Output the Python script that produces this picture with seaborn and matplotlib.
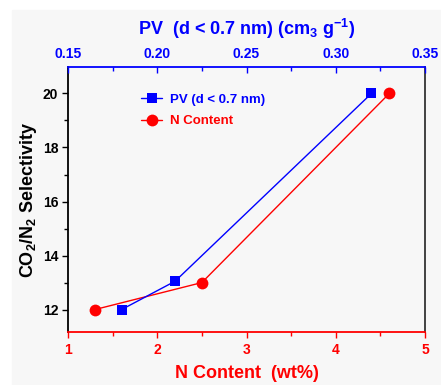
import numpy as np
import pandas as pd
import seaborn as sns
import matplotlib.pyplot as plt
from matplotlib.patches import Rectangle
from matplotlib.ticker import MultipleLocator

# data
n_content = [1.3, 2.5, 4.6]
n_selectivity = [12.0, 13.0, 20.0]
pv_values = [0.18, 0.21, 0.32]
pv_selectivity = [12.0, 13.05, 20.0]

df_n = pd.DataFrame({"N": n_content, "sel": n_selectivity})
df_pv = pd.DataFrame({"PV": pv_values, "sel": pv_selectivity})

sns.set_style("ticks")
plt.rcParams['font.family'] = ['Liberation Sans', 'DejaVu Sans']
plt.rcParams['font.weight'] = 'bold'
plt.rcParams['mathtext.fontset'] = 'custom'
plt.rcParams['mathtext.rm'] = 'Liberation Sans:bold'
plt.rcParams['mathtext.bf'] = 'Liberation Sans:bold'
plt.rcParams['mathtext.default'] = 'bf'

fig = plt.figure(figsize=(4.41, 3.85), dpi=100)
fig.patch.set_facecolor('white')
fig.patches.append(Rectangle((12/441, 0), 1, 1-10/385, transform=fig.transFigure,
                             color='#f7f7f7', zorder=-1))

ax = fig.add_axes([68/441, 1-332/385, 357/441, 265/385])
ax.set_facecolor('none')
ax2 = ax.twiny()
ax2.set_facecolor('none')

sns.lineplot(data=df_n, x="N", y="sel", ax=ax, color='#ff0000', marker='o',
             markersize=8.5, markeredgewidth=0, linewidth=1, label='N Content', legend=False)
sns.lineplot(data=df_pv, x="PV", y="sel", ax=ax2, color='#0000ff', marker='s',
             markersize=7, markeredgewidth=0, linewidth=1, label='PV (d < 0.7 nm)', legend=False)

ax.set_xlim(1, 5)
ax.set_ylim(11.17, 20.98)
ax2.set_xlim(0.15, 0.35)

ax.xaxis.set_major_locator(MultipleLocator(1))
ax.xaxis.set_minor_locator(MultipleLocator(0.5))
ax.yaxis.set_major_locator(MultipleLocator(2))
ax.yaxis.set_minor_locator(MultipleLocator(1))
ax2.xaxis.set_major_locator(MultipleLocator(0.05))
ax2.xaxis.set_minor_locator(MultipleLocator(0.025))
ax2.xaxis.set_major_formatter(plt.FormatStrFormatter('%.2f'))

ax.tick_params(axis='x', which='both', colors='#ff0000', direction='out', labelsize=10, pad=4)
ax.tick_params(axis='x', which='major', length=4, width=1)
ax.tick_params(axis='x', which='minor', length=3, width=1)
ax.tick_params(axis='y', which='both', colors='black', direction='out', labelsize=10, pad=3)
ax.tick_params(axis='y', which='major', length=4, width=1)
ax.tick_params(axis='y', which='minor', length=3, width=1)
ax2.tick_params(axis='x', which='both', colors='#0000ff', direction='in', labelsize=10, pad=4)
ax2.tick_params(axis='x', which='major', length=4, width=1)
ax2.tick_params(axis='x', which='minor', length=3, width=1)

for lab in ax.get_xticklabels() + ax.get_yticklabels() + ax2.get_xticklabels():
    lab.set_fontweight('bold')

ax.spines['bottom'].set_color('#ff0000')
ax.spines['left'].set_color('black')
ax.spines['right'].set_color('#333333')
ax.spines['top'].set_visible(False)
ax2.spines['top'].set_color('#0000ff')
ax2.spines['bottom'].set_visible(False)
ax2.spines['left'].set_visible(False)
ax2.spines['right'].set_visible(False)
for s in ['bottom', 'left', 'right']:
    ax.spines[s].set_linewidth(1.3)
ax2.spines['top'].set_linewidth(1.3)

ax.set_xlabel('N Content  (wt%)', color='#ff0000', fontsize=13, fontweight='bold', labelpad=6)
ax.set_ylabel('CO$_2$/N$_2$ Selectivity', color='black', fontsize=13, fontweight='bold', labelpad=3)
ax2.set_xlabel('PV  (d < 0.7 nm) (cm$_3$ g$^{-1}$)', color='#0000ff', fontsize=13,
               fontweight='bold', labelpad=9)

h1, l1 = ax2.get_legend_handles_labels()
h2, l2 = ax.get_legend_handles_labels()
leg = ax2.legend(h1 + h2, l1 + l2, loc='upper left', bbox_to_anchor=(0.19, 0.92),
                 frameon=False, fontsize=9.5, labelcolor='linecolor', handlelength=1.6,
                 handletextpad=0.6, borderaxespad=0, labelspacing=0.7)
for t in leg.get_texts():
    t.set_fontweight('bold')

fig.savefig('out.png', dpi=100)
